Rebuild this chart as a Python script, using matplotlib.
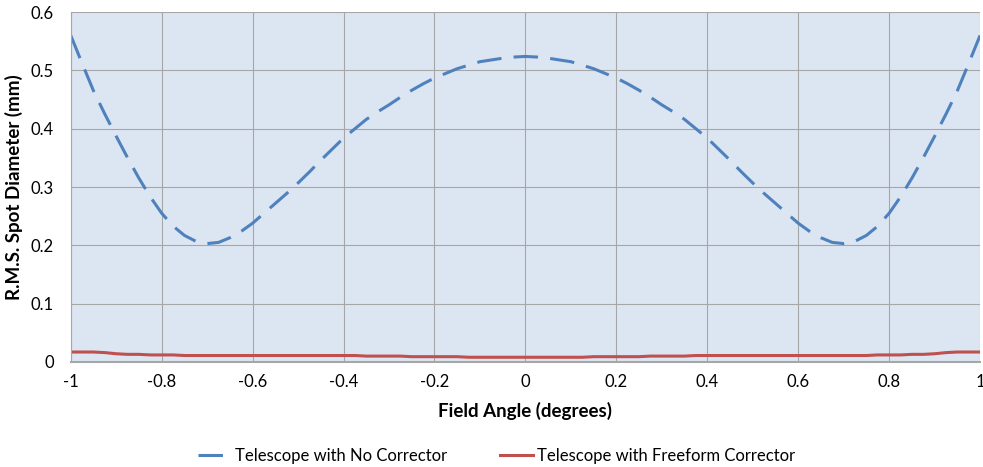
import matplotlib.pyplot as plt
from matplotlib.ticker import FuncFormatter

# field angle (degrees), left half, right half mirrors it
angle_half = [-1.0, -0.975, -0.95, -0.925, -0.9, -0.875, -0.85, -0.825, -0.8,
              -0.775, -0.75, -0.725, -0.7, -0.675, -0.65, -0.625, -0.6, -0.575,
              -0.55, -0.525, -0.5, -0.475, -0.45, -0.425, -0.4, -0.375, -0.35,
              -0.325, -0.3, -0.275, -0.25, -0.225, -0.2, -0.175, -0.15, -0.125,
              -0.1, -0.075, -0.05, -0.025, 0.0]
no_corr_half = [0.560, 0.512, 0.465, 0.425, 0.387, 0.350, 0.315, 0.283, 0.255,
                0.233, 0.217, 0.207, 0.203, 0.205, 0.213, 0.224, 0.238, 0.255,
                0.272, 0.289, 0.307, 0.326, 0.346, 0.365, 0.384, 0.400, 0.416,
                0.429, 0.441, 0.454, 0.466, 0.477, 0.487, 0.495, 0.503, 0.509,
                0.515, 0.518, 0.521, 0.523, 0.524]
freeform_half = [0.017, 0.017, 0.017, 0.016, 0.014, 0.013, 0.013, 0.012, 0.012,
                 0.012, 0.011, 0.011, 0.011, 0.011, 0.011, 0.011, 0.011, 0.011,
                 0.011, 0.011, 0.011, 0.011, 0.011, 0.011, 0.011, 0.011, 0.010,
                 0.010, 0.010, 0.010, 0.009, 0.009, 0.009, 0.009, 0.009, 0.008,
                 0.008, 0.008, 0.008, 0.008, 0.008]

angle = angle_half + [-a for a in angle_half[-2::-1]]
no_corr = no_corr_half + no_corr_half[-2::-1]
freeform = freeform_half + freeform_half[-2::-1]

x_ticks = [-1, -0.8, -0.6, -0.4, -0.2, 0, 0.2, 0.4, 0.6, 0.8, 1]
y_ticks = [0, 0.1, 0.2, 0.3, 0.4, 0.5, 0.6]

plt.rcParams['font.family'] = ['Lato', 'DejaVu Sans']

fig = plt.figure(figsize=(9.83, 4.67), dpi=100)
ax = fig.add_axes([0.072, 0.225, 0.925, 0.749])
ax.set_facecolor('#dce6f2')

ax.plot(angle, no_corr, color='#4f81bd', lw=2.2, dashes=(8, 4),
        label='Telescope with No Corrector')
ax.plot(angle, freeform, color='#c0504d', lw=2.2,
        label='Telescope with Freeform Corrector')

ax.set_xlim(-1, 1)
ax.set_ylim(0, 0.6)
ax.set_xticks(x_ticks)
ax.set_yticks(y_ticks)
fmt = FuncFormatter(lambda v, p: '%g' % v)
ax.xaxis.set_major_formatter(fmt)
ax.yaxis.set_major_formatter(fmt)
ax.grid(True, color='#a6a6a6', lw=0.8)
ax.set_axisbelow(True)
for s in ['top', 'right']:
    ax.spines[s].set_visible(False)
ax.spines['left'].set_color('#a6a6a6')
ax.spines['bottom'].set_color('#a6a6a6')
ax.spines['bottom'].set_linewidth(1.5)
ax.tick_params(axis='x', length=0, labelsize=12, pad=9)
ax.tick_params(axis='y', length=0, labelsize=12, pad=12)

ax.set_xlabel('Field Angle (degrees)', fontsize=13.5, fontweight='bold', labelpad=8)
ax.set_ylabel('R.M.S. Spot Diameter (mm)', fontsize=13.5, fontweight='bold', labelpad=6)

fig.legend(loc='lower center', bbox_to_anchor=(0.505, -0.025), ncol=2, frameon=False,
           fontsize=12, columnspacing=3.2, handlelength=2.0, handletextpad=0.2)

fig.savefig('out.png', dpi=100)
